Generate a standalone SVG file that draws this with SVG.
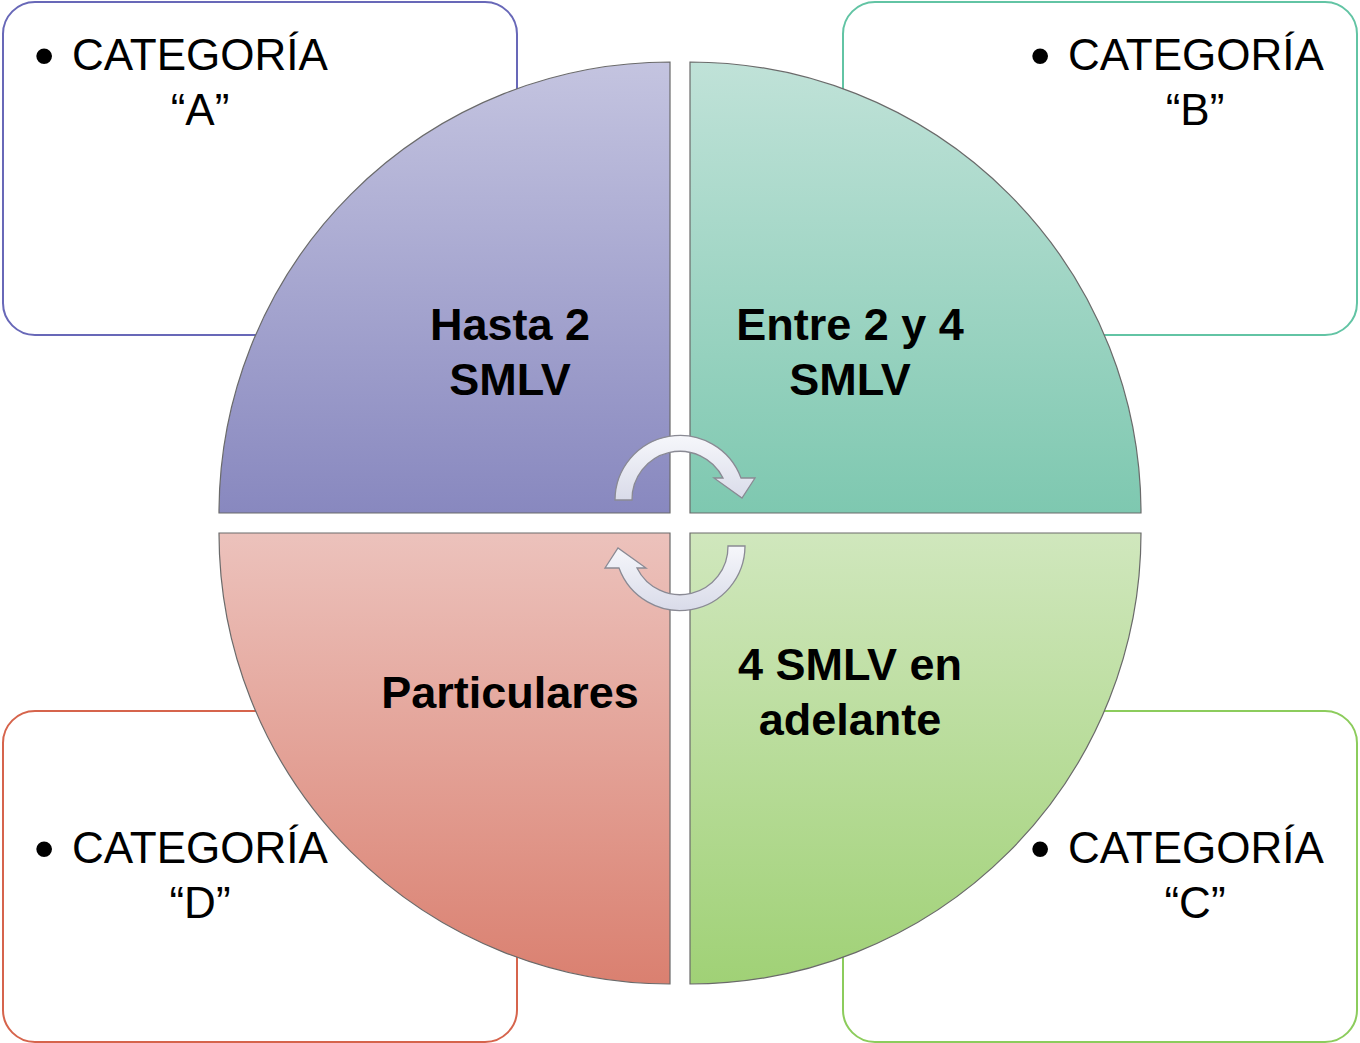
<svg xmlns="http://www.w3.org/2000/svg" width="1360" height="1043" viewBox="0 0 1360 1043">
<style>
.box{fill:#fff;stroke-width:2}
.cat{font-family:"Liberation Sans",Arial,sans-serif;font-size:44px;fill:#000}
.bul{font-size:58px}
.lbl{font-family:"Liberation Sans",Arial,sans-serif;font-size:45px;font-weight:bold;fill:#000;text-anchor:middle}
.q{stroke:#6a6a6a;stroke-width:1.2}
.arr{fill:url(#gArr);stroke:#8a8a94;stroke-width:1.3}
</style>
<defs>
<linearGradient id="gA" x1="0" y1="0" x2="0" y2="1"><stop offset="0" stop-color="#c4c4e0"/><stop offset="1" stop-color="#8888bf"/></linearGradient>
<linearGradient id="gB" x1="0" y1="0" x2="0" y2="1"><stop offset="0" stop-color="#c0e2d8"/><stop offset="1" stop-color="#7ec8b0"/></linearGradient>
<linearGradient id="gD" x1="0" y1="0" x2="0" y2="1"><stop offset="0" stop-color="#ecc2bc"/><stop offset="1" stop-color="#da8070"/></linearGradient>
<linearGradient id="gC" x1="0" y1="0" x2="0" y2="1"><stop offset="0" stop-color="#d0e7bd"/><stop offset="1" stop-color="#a0d176"/></linearGradient>
<linearGradient id="gArr" x1="0" y1="0" x2="0" y2="1"><stop offset="0" stop-color="#f6f7fb"/><stop offset="1" stop-color="#d9dbe9"/></linearGradient>
</defs>
<g id="boxA"><rect class="box" x="3" y="2" width="514" height="333" rx="32" stroke="#6868b8"/>
<text class="cat"><tspan class="bul" x="34" y="75">•</tspan><tspan x="72" y="70">CATEGORÍA</tspan></text>
<text class="cat" x="200" y="125" text-anchor="middle">“A”</text></g>
<g id="boxB"><rect class="box" x="843" y="2" width="514" height="333" rx="32" stroke="#62c4a4"/>
<text class="cat"><tspan class="bul" x="1030" y="75">•</tspan><tspan x="1068" y="70">CATEGORÍA</tspan></text>
<text class="cat" x="1195" y="125" text-anchor="middle">“B”</text></g>
<g id="boxD"><rect class="box" x="3" y="711" width="514" height="331" rx="32" stroke="#d6644c"/>
<text class="cat"><tspan class="bul" x="34" y="868">•</tspan><tspan x="72" y="863">CATEGORÍA</tspan></text>
<text class="cat" x="200" y="918" text-anchor="middle">“D”</text></g>
<g id="boxC"><rect class="box" x="843" y="711" width="514" height="331" rx="32" stroke="#8ccc5c"/>
<text class="cat"><tspan class="bul" x="1030" y="868">•</tspan><tspan x="1068" y="863">CATEGORÍA</tspan></text>
<text class="cat" x="1195" y="918" text-anchor="middle">“C”</text></g>
<g id="qA"><path class="q" d="M670 62 A451 451 0 0 0 219 513 L670 513 Z" fill="url(#gA)"/>
<text class="lbl" x="510" y="340">Hasta 2</text><text class="lbl" x="510" y="395">SMLV</text></g>
<g id="qB"><path class="q" d="M690 62 A451 451 0 0 1 1141 513 L690 513 Z" fill="url(#gB)"/>
<text class="lbl" x="850" y="340">Entre 2 y 4</text><text class="lbl" x="850" y="395">SMLV</text></g>
<g id="qD"><path class="q" d="M670 984 A451 451 0 0 1 219 533 L670 533 Z" fill="url(#gD)"/>
<text class="lbl" x="510" y="708">Particulares</text></g>
<g id="qC"><path class="q" d="M690 984 A451 451 0 0 0 1141 533 L690 533 Z" fill="url(#gC)"/>
<text class="lbl" x="850" y="680">4 SMLV en</text><text class="lbl" x="850" y="735">adelante</text></g>
<g id="connectors">
<path class="arr" d="M615 500 A65 65 0 0 1 741 478 L755 478 L742 498 L714 478 L723 478 A48 48 0 0 0 632 500 Z"/>
<path class="arr" d="M745 546 A65 65 0 0 1 619 568 L605 568 L618 548 L646 568 L637 568 A48 48 0 0 0 728 546 Z"/>
</g>
</svg>
